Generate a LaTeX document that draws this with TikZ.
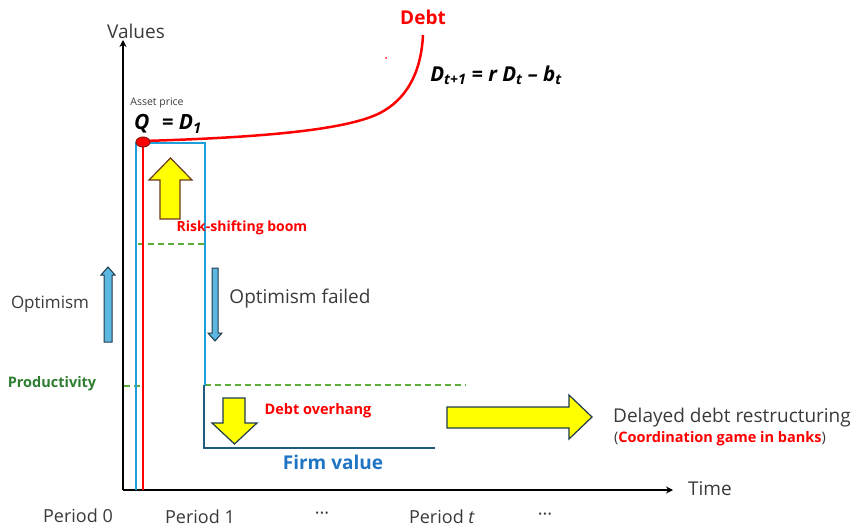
\documentclass[tikz,border=0pt]{standalone}
\usepackage{fontspec}
\setmainfont{Open Sans}
\usetikzlibrary{arrows.meta}
\definecolor{debt-red}{HTML}{FF0000}
\definecolor{dot-rim}{HTML}{8B1A10}
\definecolor{firm-blue}{HTML}{1E9FD9}
\definecolor{firm-dark}{HTML}{1F5C80}
\definecolor{firm-label}{HTML}{1F74C4}
\definecolor{prod-green}{HTML}{2E7D32}
\definecolor{dash-green}{HTML}{5BAE3C}
\definecolor{text-gray}{HTML}{3A3A3A}
\definecolor{arrow-yellow}{HTML}{FFFF00}
\definecolor{arrow-sky}{HTML}{5CB8E0}
\definecolor{arrow-rim}{HTML}{1F3B4D}
\definecolor{boom-rim}{HTML}{6B3A1F}
\newcommand{\sz}[1]{\fontsize{#1}{#1}\selectfont}

\begin{document}
\begin{tikzpicture}[x=1pt, y=-1pt, every node/.style={text=text-gray, inner sep=1pt}]
    \useasboundingbox (0,0) rectangle (857,530);
    % axes
    \coordinate (o) at (123,490);
    \coordinate (ytop) at (123,40);
    \coordinate (xend) at (673,490);
    \draw[line width=1.8pt, -{Stealth[length=7pt, width=7pt]}] (o) -- (ytop);
    \draw[line width=1.8pt, -{Stealth[length=7pt, width=7pt]}] (o) -- (xend);
    \node (values) at (136,31) {\sz{19}Values};
    \node (time) at (710,489) {\sz{19}Time};
    \node (p0) at (78,516) {\sz{18}Period 0};
    \node (p1) at (200,517) {\sz{18}Period 1};
    \node (dots1) at (322,516) {\sz{18}\textperiodcentered\textperiodcentered\textperiodcentered};
    \node (pt) at (442,517) {\sz{18}Period \textit{t}};
    \node (dots2) at (545,517) {\sz{18}\textperiodcentered\textperiodcentered\textperiodcentered};
    % productivity levels
    \draw[dash-green, line width=1.2pt, dash pattern=on 6pt off 4pt] (124,386) -- (140,386);
    \draw[dash-green, line width=1.2pt, dash pattern=on 6pt off 4pt] (205,385) -- (466,385);
    \draw[dash-green, line width=1.2pt, dash pattern=on 6pt off 4pt] (138,244) -- (205,244);
    % firm value
    \draw[firm-blue, line width=2pt] (136,490) -- (136,143) -- (205,143) -- (205,386);
    \draw[firm-dark, line width=2pt] (204,385) -- (204,448) -- (435,448);
    % debt
    \draw[debt-red, line width=2.5pt] (143,490) -- (143,142);
    \draw[debt-red, line width=2.5pt] (143,141) .. controls (280,137) and (350,128) .. (380,113)
      .. controls (405,100) and (421,75) .. (423,35);
    \fill[debt-red] (386,58) circle (1pt);
    \filldraw[fill=debt-red, draw=dot-rim, line width=1pt] (143,142) ellipse (7 and 5);
    \node (asset) at (157,103) {\sz{10.5}Asset price};
    \node[text=black] (qd) at (168,124) {\sz{21}\bfseries\itshape Q\,\, = D\textsubscript{1}};
    \node[text=debt-red] (debt) at (423,17) {\sz{19}\bfseries Debt};
    \node[text=black] (law) at (496,75) {\sz{20.5}\bfseries\itshape D\textsubscript{t+1} = r D\textsubscript{t} -- b\textsubscript{t}};
    % block arrows
    \filldraw[fill=arrow-yellow, draw=boom-rim, line width=1.2pt]
      (160,219) -- (160,180) -- (149,180) -- (170.5,158) -- (192,180) -- (180,180) -- (180,219) -- cycle;
    \filldraw[fill=arrow-sky, draw=arrow-rim, line width=1pt]
      (104,342) -- (104,275) -- (101,275) -- (108,267) -- (115,275) -- (112,275) -- (112,342) -- cycle;
    \filldraw[fill=arrow-sky, draw=arrow-rim, line width=1pt]
      (212,268) -- (218,268) -- (218,333) -- (222,333) -- (215,341) -- (208,333) -- (212,333) -- cycle;
    \filldraw[fill=arrow-yellow, draw=arrow-rim, line width=1.2pt]
      (223,398) -- (245,398) -- (245,423) -- (257,423) -- (234.5,444) -- (212,423) -- (223,423) -- cycle;
    \filldraw[fill=arrow-yellow, draw=arrow-rim, line width=1.2pt]
      (447,407) -- (569,407) -- (569,395) -- (592,417) -- (569,439) -- (569,428) -- (447,428) -- cycle;
    % labels
    \node[text=debt-red] (boom) at (242,228) {\sz{14}\bfseries Risk-shifting boom};
    \node (failed) at (300,299) {\sz{19}Optimism failed};
    \node (optimism) at (50,304) {\sz{17}Optimism};
    \node[text=prod-green] (prod) at (52,384) {\sz{14.5}\bfseries Productivity};
    \node[text=debt-red] (overhang) at (318,411) {\sz{14.5}\bfseries Debt overhang};
    \node[text=firm-label] (firm) at (333,462) {\sz{19}\bfseries Firm value};
    \node (delayed) at (732,418) {\sz{19}Delayed debt restructuring};
    \node (coord) at (720,439) {\sz{14.5}(\textcolor{debt-red}{\bfseries Coordination game in banks})};
  \end{tikzpicture}
\end{document}
